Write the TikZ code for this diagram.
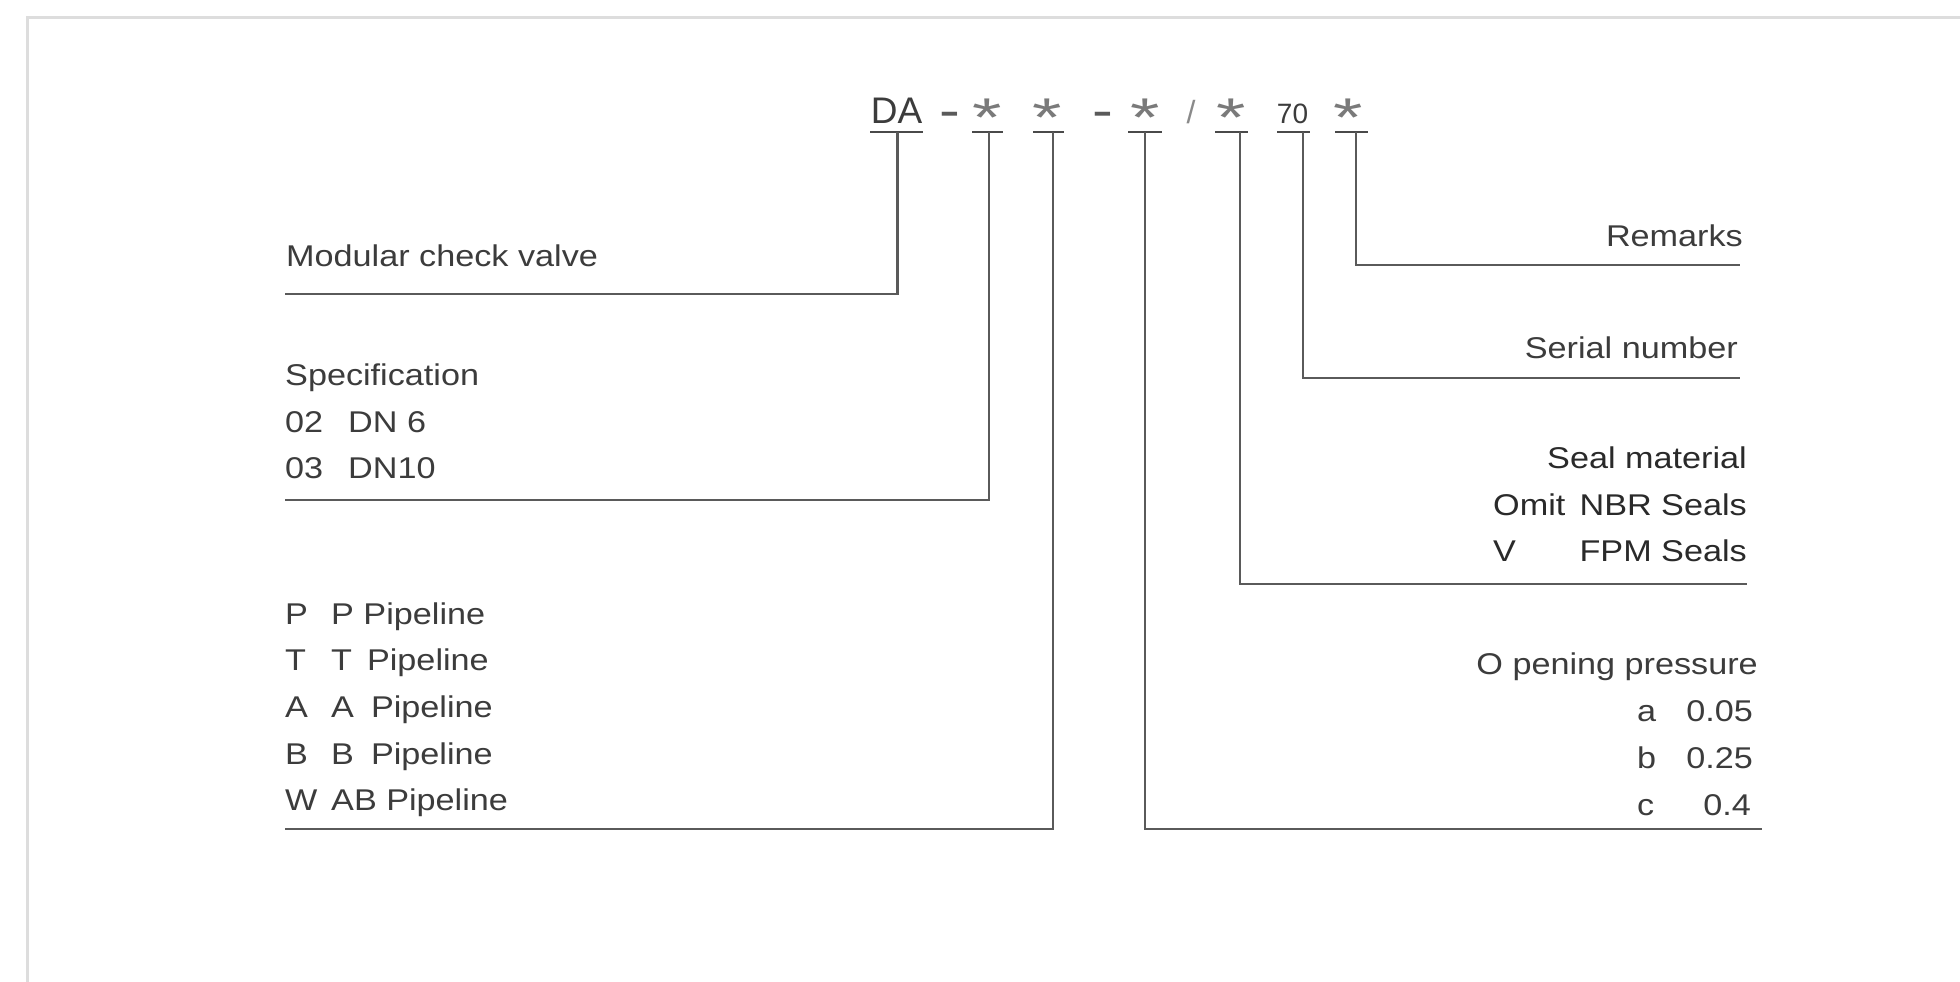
\documentclass[tikz,border=0pt]{standalone}
\usepackage{fontspec}
\usepackage{graphicx}
\setmainfont{Liberation Sans}
\newfontfamily\lblfont[FakeStretch=1.14]{Liberation Sans}
\definecolor{txt}{HTML}{3C3C3C}
\definecolor{txtd}{HTML}{2A2A2A}
\definecolor{ln}{HTML}{4A4A4A}
\definecolor{vln}{HTML}{5A5A5A}
\definecolor{frm}{HTML}{DDDDDD}
\definecolor{starc}{HTML}{7A7A7A}
\definecolor{dashc}{HTML}{5A5A5A}
\definecolor{slashc}{HTML}{8A8A8A}
\begin{document}
\begin{tikzpicture}[x=1pt,y=-1pt,
  lbl/.style={inner sep=0pt, font=\lblfont\fontsize{30}{36}\selectfont, text=txt},
  lw/.style={lbl, anchor=base west},
  le/.style={lbl, anchor=base east},
  lwd/.style={lw, text=txtd},
  led/.style={le, text=txtd},
  code/.style={inner sep=0pt, anchor=base, font=\fontsize{37}{40}\selectfont, text=txt},
  small/.style={inner sep=0pt, anchor=base, font=\fontsize{28}{32}\selectfont, text=txt},
  dashsym/.style={inner sep=0pt, anchor=base, font=\fontsize{50}{54}\selectfont, text=dashc},
  slashsym/.style={inner sep=0pt, anchor=base, font=\fontsize{32}{36}\selectfont, text=slashc},
  starsym/.style={inner sep=0pt, anchor=north, font=\fontsize{52}{56}\selectfont, text=starc},
  uline/.style={draw=ln, line width=2.6pt},
  conn/.style={draw=vln, line width=2.6pt, line join=miter}]
\useasboundingbox (0,0) rectangle (1960,982);
\fill[white] (0,0) rectangle (1960,982);
% frame
\draw[frm, line width=3pt] (27,982) -- (27,18) -- (1960,18);

% header code
\node[code] (DA) at (896.5,123) {DA};
\node[dashsym] (d1) at (949.5,127) {\scalebox{1.25}[1]{-}};
\node[starsym] (s1) at (987,99) {\scalebox{1.45}[1.05]{*}};
\node[starsym] (s2) at (1047.5,99) {\scalebox{1.45}[1.05]{*}};
\node[dashsym] (d2) at (1103,127) {\scalebox{1.25}[1]{-}};
\node[starsym] (s3) at (1145,99) {\scalebox{1.45}[1.05]{*}};
\node[slashsym] (sl) at (1191,123) {/};
\node[starsym] (s4) at (1231.5,99) {\scalebox{1.45}[1.05]{*}};
\node[small] (n70) at (1292.5,123) {70};
\node[starsym] (s5) at (1348.5,99) {\scalebox{1.45}[1.05]{*}};

% underlines
\coordinate (uDAa) at (870,132);  \coordinate (uDAb) at (923,132);
\coordinate (u1a) at (972,132);   \coordinate (u1b) at (1003,132);
\coordinate (u2a) at (1033,132);  \coordinate (u2b) at (1064,132);
\coordinate (u3a) at (1128,132);  \coordinate (u3b) at (1162,132);
\coordinate (u4a) at (1215,132);  \coordinate (u4b) at (1248,132);
\coordinate (u7a) at (1277,132);  \coordinate (u7b) at (1310,132);
\coordinate (u5a) at (1335,132);  \coordinate (u5b) at (1368,132);
\foreach \a/\b in {uDAa/uDAb,u1a/u1b,u2a/u2b,u3a/u3b,u4a/u4b,u7a/u7b,u5a/u5b}
  \draw[uline] (\a) -- (\b);

% connector anchor points
\coordinate (tDA) at (897.5,132); \coordinate (cDA) at (897.5,294); \coordinate (eDA) at (285,294);
\coordinate (t1) at (989,132);    \coordinate (c1) at (989,500);    \coordinate (e1) at (285,500);
\coordinate (t2) at (1053,132);   \coordinate (c2) at (1053,829);   \coordinate (e2) at (285,829);
\coordinate (t3) at (1145,132);   \coordinate (c3) at (1145,829);   \coordinate (e3) at (1762,829);
\coordinate (t4) at (1240,132);   \coordinate (c4) at (1240,584);   \coordinate (e4) at (1747,584);
\coordinate (t7) at (1303,132);   \coordinate (c7) at (1303,378);   \coordinate (e7) at (1740,378);
\coordinate (t5) at (1356,132);   \coordinate (c5) at (1356,265);   \coordinate (e5) at (1740,265);

\draw[conn] (tDA) -- (cDA) -- (eDA);
\draw[conn] (t1) -- (c1) -- (e1);
\draw[conn] (t2) -- (c2) -- (e2);
\draw[conn] (t3) -- (c3) -- (e3);
\draw[conn] (t4) -- (c4) -- (e4);
\draw[conn] (t7) -- (c7) -- (e7);
\draw[conn] (t5) -- (c5) -- (e5);

% left labels
\node[lw] (mcv) at (286,266) {Modular check valve};
\node[lw] (spec) at (285,385) {Specification};
\node[lw] (s02) at (285,432) {02};
\node[lw] (s02d) at (348,432) {DN 6};
\node[lw] (s03) at (285,478) {03};
\node[lw] (s03d) at (348,478) {DN10};

\node[lw] (pP) at (285,624) {P};
\node[lw] (pPd) at (331,624) {P Pipeline};
\node[lw] (pT) at (285,670) {T};
\node[lw] (pTd) at (331,670) {T\hspace{15pt}Pipeline};
\node[lw] (pA) at (285,717) {A};
\node[lw] (pAd) at (331,717) {A\hspace{17pt}Pipeline};
\node[lw] (pB) at (285,764) {B};
\node[lw] (pBd) at (331,764) {B\hspace{17pt}Pipeline};
\node[lw] (pW) at (285,810) {W};
\node[lw] (pWd) at (331,810) {AB Pipeline};

% right labels
\node[le] (rem) at (1743,246) {Remarks};
\node[le] (ser) at (1738,358) {Serial number};
\node[led] (seal) at (1747,468) {Seal material};
\node[lwd] (omit) at (1493,515) {Omit};
\node[led] (nbr) at (1747,515) {NBR Seals};
\node[lwd] (vv) at (1493,561) {V};
\node[led] (fpm) at (1747,561) {FPM Seals};

\node[le] (open) at (1758,674) {O pening pressure};
\node[lw] (pa) at (1637,721) {a};
\node[le] (pav) at (1753,721) {0.05};
\node[lw] (pb) at (1637,768) {b};
\node[le] (pbv) at (1753,768) {0.25};
\node[lw] (pc) at (1637,815) {c};
\node[le] (pcv) at (1751,815) {0.4};
\end{tikzpicture}
\end{document}
